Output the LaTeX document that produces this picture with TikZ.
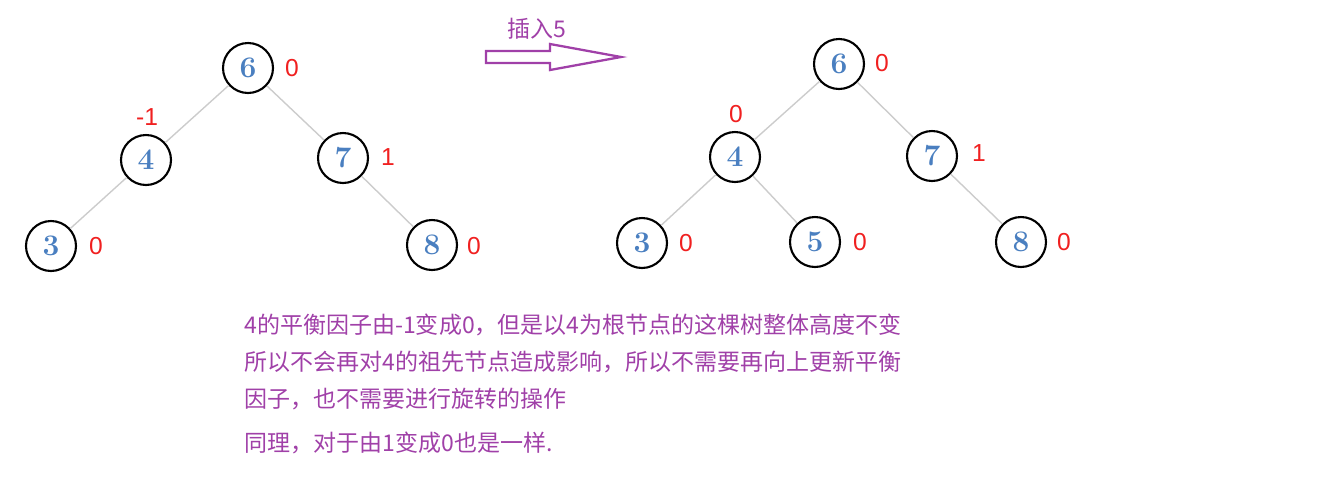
\documentclass[tikz,border=0pt]{standalone}
\usepackage{fontspec}
\newfontfamily\cjk{Noto Sans CJK SC}
\newfontfamily\lsans{Liberation Sans}
\definecolor{pur}{HTML}{A040A8}
\definecolor{nblue}{HTML}{4A7FC0}
\definecolor{bred}{HTML}{F02020}
\begin{document}
\begin{tikzpicture}[x=0.02cm,y=-0.02cm,
  nd/.style={circle,draw=black,line width=1.2pt,minimum size=1cm,inner sep=0pt,text=nblue,font=\fontsize{17}{17}\selectfont\bfseries},
  bf/.style={text=bred,font=\lsans\fontsize{14}{14}\selectfont},
  ed/.style={draw=gray!40,line width=0.8pt},
  tx/.style={text=pur,font=\cjk\fontsize{13.1}{13.1}\selectfont,anchor=west,inner sep=0pt}]
\useasboundingbox (0,0) rectangle (1334,484);
% left tree
\node[nd] (a6) at (248,68) {6};
\node[nd] (a4) at (146,160) {4};
\node[nd] (a7) at (343,158) {7};
\node[nd] (a3) at (51,246) {3};
\node[nd] (a8) at (432,245) {8};
\draw[ed] (a6)--(a4) (a6)--(a7) (a4)--(a3) (a7)--(a8);
\node[bf] (b1) at (292,68) {0};
\node[bf] (b2) at (147,117) {-1};
\node[bf] (b3) at (388,157) {1};
\node[bf] (b4) at (96,246) {0};
\node[bf] (b5) at (474,246) {0};
% right tree
\node[nd] (c6) at (839,64) {6};
\node[nd] (c4) at (735,157) {4};
\node[nd] (c7) at (932,156) {7};
\node[nd] (c3) at (642,243) {3};
\node[nd] (c5) at (815,242) {5};
\node[nd] (c8) at (1021,242) {8};
\draw[ed] (c6)--(c4) (c6)--(c7) (c4)--(c3) (c4)--(c5) (c7)--(c8);
\node[bf] (d1) at (882,63) {0};
\node[bf] (d2) at (736,114) {0};
\node[bf] (d3) at (979,153) {1};
\node[bf] (d4) at (686,243) {0};
\node[bf] (d5) at (860,242) {0};
\node[bf] (d6) at (1064,242) {0};
% arrow
\draw[pur,line width=1.3pt,line join=miter] (486,51) -- (550,51) -- (550,44) -- (621,57) -- (550,70) -- (550,63) -- (486,63) -- cycle;
\node[tx,anchor=center] (ins) at (537,29) {插入5};
% text
\node[tx] (t1) at (244,325) {4的平衡因子由-1变成0，但是以4为根节点的这棵树整体高度不变};
\node[tx] (t2) at (244,362) {所以不会再对4的祖先节点造成影响，所以不需要再向上更新平衡};
\node[tx] (t3) at (244,399) {因子，也不需要进行旋转的操作};
\node[tx] (t4) at (244,443) {同理，对于由1变成0也是一样.};
\end{tikzpicture}
\end{document}
